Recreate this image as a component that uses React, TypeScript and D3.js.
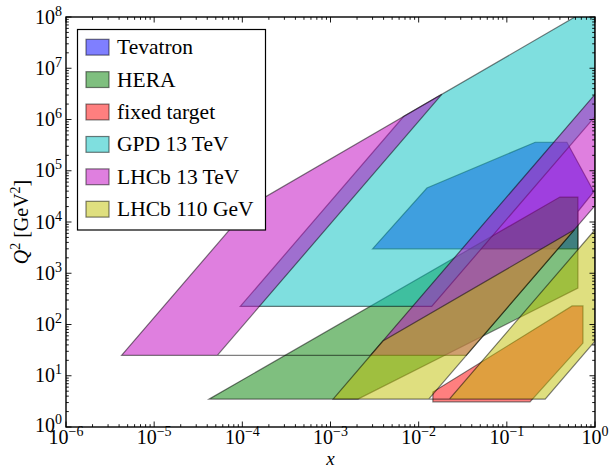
import React from "react";
import * as d3 from "d3";

const W = 609;
const H = 470;
const PL = 66, PR = 595, PT = 17, PB = 427;

const xDecades = [-6, -5, -4, -3, -2, -1, 0];
const yDecades = [0, 1, 2, 3, 4, 5, 6, 7, 8];

const seriesNames = ["Tevatron", "HERA", "fixed target", "GPD 13 TeV", "LHCb 13 TeV", "LHCb 110 GeV"];
const seriesColors = ["#0000ff", "#008000", "#ff0000", "#00bfbf", "#bf00bf", "#bfbf00"];

// polygon vertices [x, Q^2]
const tevatron: [number, number][] = [
  [3.0e-3, 3.0e3], [1.24e-2, 4.6e4], [0.21, 3.6e5], [0.48, 3.6e5], [0.97, 3.9e4], [0.64, 1.6e4], [0.64, 3.0e3],
];
const hera: [number, number][] = [
  [4.2e-5, 3.5], [0.40, 3.07e4], [0.64, 3.07e4], [0.64, 515], [2.05e-3, 3.5],
];
const fixedTarget: [number, number][] = [
  [0.0145, 3.1], [0.0145, 4.8], [0.55, 230], [0.73, 230], [0.73, 43.5], [0.183, 3.1],
];
const gpd13: [number, number][] = [
  [9.47e-5, 225], [0.01406, 225], [1, 1.14e6], [1, 1.69e8], [6.74e-3, 1.14e6],
];
const lhcb13: [number, number][] = [
  [4.27e-6, 25], [2.84e-3, 25], [0.0346, 25], [1, 2.08e4], [1, 3.1e6], [2.84e-3, 25],
  [5.2e-5, 25], [0.0183, 3.1e6], [1.23e-4, 2.08e4],
];
const lhcb110: [number, number][] = [
  [1.07e-3, 3.5], [0.0223, 3.5], [0.272, 3.5], [1, 47.5], [1, 7050], [0.0223, 3.5],
  [0.0130, 3.5], [0.583, 7050], [3.93e-3, 47.5],
];

const regions = [tevatron, hera, fixedTarget, gpd13, lhcb13, lhcb110];

const FONT = "'Liberation Serif', 'DejaVu Serif', serif";

export default function App() {
  const x = d3.scaleLog().domain([1e-6, 1]).range([PL, PR]);
  const y = d3.scaleLog().domain([1, 1e8]).range([PB, PT]);
  const line = d3
    .line<[number, number]>()
    .x((d) => x(d[0]))
    .y((d) => y(d[1]));

  const xMinor: number[] = [];
  xDecades.slice(0, -1).forEach((k) => {
    for (let m = 2; m <= 9; m++) xMinor.push(m * Math.pow(10, k));
  });
  const yMinor: number[] = [];
  yDecades.slice(0, -1).forEach((k) => {
    for (let m = 2; m <= 9; m++) yMinor.push(m * Math.pow(10, k));
  });

  const MAJ = 5.5, MIN = 2.8;
  const ticks: JSX.Element[] = [];
  xDecades.forEach((k, i) => {
    const px = x(Math.pow(10, k));
    ticks.push(<line key={"xb" + i} x1={px} x2={px} y1={PB} y2={PB - MAJ} />);
    ticks.push(<line key={"xt" + i} x1={px} x2={px} y1={PT} y2={PT + MAJ} />);
  });
  xMinor.forEach((v, i) => {
    const px = x(v);
    ticks.push(<line key={"xbm" + i} x1={px} x2={px} y1={PB} y2={PB - MIN} />);
    ticks.push(<line key={"xtm" + i} x1={px} x2={px} y1={PT} y2={PT + MIN} />);
  });
  yDecades.forEach((k, i) => {
    const py = y(Math.pow(10, k));
    ticks.push(<line key={"yl" + i} x1={PL} x2={PL + MAJ} y1={py} y2={py} />);
    ticks.push(<line key={"yr" + i} x1={PR} x2={PR - MAJ} y1={py} y2={py} />);
  });
  yMinor.forEach((v, i) => {
    const py = y(v);
    ticks.push(<line key={"ylm" + i} x1={PL} x2={PL + MIN} y1={py} y2={py} />);
    ticks.push(<line key={"yrm" + i} x1={PR} x2={PR - MIN} y1={py} y2={py} />);
  });

  const legX = 77.5, legY = 29.5, legW = 188, legH = 200.5;
  const pitch = 32.4;

  return (
    <svg width={W} height={H} style={{ position: "absolute", left: 0, top: 0 }} fontFamily={FONT}>
      <defs>
        <clipPath id="plotclip">
          <rect x={PL} y={PT} width={PR - PL} height={PB - PT} />
        </clipPath>
      </defs>
      <rect x={0} y={0} width={W} height={H} fill="#fff" />
      <g clipPath="url(#plotclip)">
        {regions.map((r, i) => (
          <path
            key={i}
            d={line(r)! + "Z"}
            fill={seriesColors[i]}
            fillOpacity={0.5}
            stroke="#000"
            strokeOpacity={0.5}
            strokeWidth={1.2}
            strokeLinejoin="miter"
          />
        ))}
      </g>
      <g stroke="#000" strokeWidth={0.9}>{ticks}</g>
      <rect x={PL} y={PT} width={PR - PL} height={PB - PT} fill="none" stroke="#000" strokeWidth={1.4} />

      {xDecades.map((k, i) => (
        <text key={"xl" + i} x={x(Math.pow(10, k))} y={444} textAnchor="middle" fontSize={20} fill="#000">
          10
          <tspan dy={-8} fontSize={14}>{k < 0 ? "\u2212" + Math.abs(k) : String(k)}</tspan>
        </text>
      ))}
      {yDecades.map((k, i) => (
        <text key={"yl" + i} x={62} y={y(Math.pow(10, k)) + (k === 0 ? 4.5 : 6.5)} textAnchor="end" fontSize={20} fill="#000">
          10
          <tspan dy={-8} fontSize={14}>{String(k)}</tspan>
        </text>
      ))}

      <text x={(PL + PR) / 2} y={465} textAnchor="middle" fontSize={19} fontStyle="italic" fill="#000">
        x
      </text>
      <text transform={`translate(28, ${(PT + PB) / 2}) rotate(-90)`} textAnchor="middle" fontSize={20} fill="#000">
        <tspan fontStyle="italic">Q</tspan>
        <tspan dy={-8} fontSize={14}>2</tspan>
        <tspan dy={8}> [GeV</tspan>
        <tspan dy={-8} fontSize={14}>2</tspan>
        <tspan dy={8}>]</tspan>
      </text>

      <rect x={legX} y={legY} width={legW} height={legH} fill="#fff" stroke="#000" strokeWidth={1.2} />
      {seriesNames.map((name, i) => {
        const cy = 47.2 + i * pitch;
        return (
          <g key={"leg" + i}>
            <rect
              x={86}
              y={cy - 7.9}
              width={23}
              height={15.8}
              fill={seriesColors[i]}
              fillOpacity={0.5}
              stroke="#000"
              strokeOpacity={0.5}
              strokeWidth={1.2}
            />
            <text x={117} y={cy + 7} fontSize={21.5} fill="#000">
              {name}
            </text>
          </g>
        );
      })}
    </svg>
  );
}
